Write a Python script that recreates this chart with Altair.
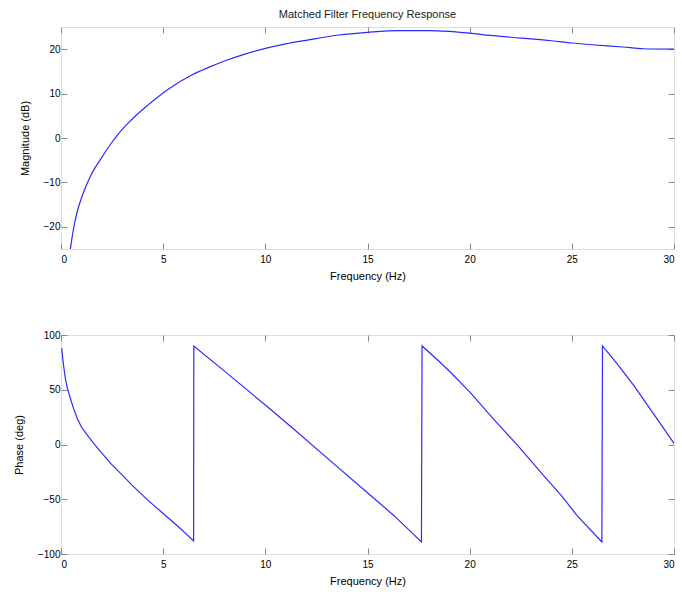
import altair as alt
import pandas as pd

# Magnitude response (dB) of the matched filter
mag_freq = [0.3, 0.46, 0.63, 0.8, 1.04, 1.45, 1.95, 2.44, 2.8, 3.27, 4.22, 5.25, 6.4, 7.23,
            8.1, 9.0, 10.1, 11.0, 12.0, 13.6, 15.0, 16.5, 18.0, 19.0, 20.0, 21.0, 22.5,
            24.0, 25.0, 26.0, 27.5, 28.5, 30.0]
mag_db = [-32.0, -25.0, -20.0, -16.5, -13.0, -8.5, -4.7, -1.3, 0.9, 3.3, 7.3, 11.0, 14.2, 15.9,
          17.5, 18.9, 20.3, 21.2, 22.0, 23.2, 23.8, 24.2, 24.2, 24.0, 23.6, 23.1, 22.5,
          21.9, 21.4, 21.0, 20.5, 20.1, 20.0]

# Phase response (deg), wrapped to [-90, 90]
ph_freq = [0.03, 0.12, 0.21, 0.33, 0.46, 0.62, 0.79, 1.0, 1.29, 1.6, 1.95, 2.44, 3.0, 3.5,
           4.26, 5.0, 5.8, 6.49,
           6.5, 8.0, 10.0, 11.4, 13.0, 15.0, 16.3, 17.64,
           17.67, 18.5, 19.06, 20.0, 21.18, 22.4, 23.6, 24.5, 25.26, 26.47,
           26.5, 27.2, 28.03, 29.0, 30.0]
ph_deg = [88, 73, 60.5, 50, 42, 32.5, 24, 16, 8.5, 1, -6.7, -17.4, -28, -37.5,
          -51, -63, -76, -88,
          90, 67, 36, 14, -12, -44, -65, -89,
          90, 76, 66, 48, 23, -2, -28, -47, -65, -89,
          90, 74, 54, 28, 1]

x_ticks = [0, 5, 10, 15, 20, 25, 30]
mag_ticks = [-20, -10, 0, 10, 20]
ph_ticks = [-100, -50, 0, 50, 100]

LINE_COLOR = "#2b2bff"
INK = "#222222"
FONT = "Liberation Sans"
W, H_TOP, H_BOT = 613, 222, 219
TICK = 6

mag_df = pd.DataFrame({"f": mag_freq, "v": mag_db, "i": range(len(mag_freq))})
ph_df = pd.DataFrame({"f": ph_freq, "v": ph_deg, "i": range(len(ph_freq))})


def panel(df, ytitle, ydomain, yticks, height, interp, title=""):
    xscale = alt.Scale(domain=[0, 30], nice=False, zero=False)
    yscale = alt.Scale(domain=ydomain, nice=False, zero=False)
    base = alt.Chart(df)
    # visible trace with labelled bottom/left axes (ticks drawn inward)
    trace = base.mark_line(color=LINE_COLOR, strokeWidth=1.2, clip=True,
                           interpolate=interp).encode(
        x=alt.X("f:Q", scale=xscale,
                axis=alt.Axis(orient="bottom", offset=-TICK, domain=False, tickSize=TICK,
                              values=x_ticks, title="Frequency (Hz)", labelPadding=5,
                              titlePadding=6, grid=False, titleFontWeight="normal")),
        y=alt.Y("v:Q", scale=yscale,
                axis=alt.Axis(orient="left", offset=-TICK, domain=False, tickSize=TICK,
                              values=yticks, title=ytitle, labelPadding=1,
                              titlePadding=13, grid=False, titleFontWeight="normal")),
        order="i:Q",
    )
    # invisible copy that carries the inward ticks on the top/right edges
    box = base.mark_line(opacity=0).encode(
        x=alt.X("f:Q", scale=xscale,
                axis=alt.Axis(orient="top", offset=-TICK, domain=False, tickSize=TICK,
                              values=x_ticks, labels=False, title="", grid=False)),
        y=alt.Y("v:Q", scale=yscale,
                axis=alt.Axis(orient="right", offset=-TICK, domain=False, tickSize=TICK,
                              values=yticks, labels=False, title="", grid=False)),
        order="i:Q",
    )
    props = dict(width=W, height=height)
    if title:
        props["title"] = alt.TitleParams(title, fontSize=11, font=FONT, fontWeight="normal",
                                         color=INK, offset=7)
    return alt.layer(trace, box).resolve_axis(x="independent", y="independent").properties(**props)


top = panel(mag_df, "Magnitude (dB)", [-25, 25], mag_ticks, H_TOP, "monotone",
            title="Matched Filter Frequency Response")
bottom = panel(ph_df, "Phase (deg)", [-100, 100], ph_ticks, H_BOT, "linear")

chart = alt.vconcat(top, bottom, spacing=47).properties(
    padding={"left": 12, "top": 8, "right": 2, "bottom": 4}
).configure_view(
    stroke=INK, strokeWidth=1
).configure_axis(
    labelFont=FONT, titleFont=FONT, labelFontSize=12, titleFontSize=11.5,
    labelColor=INK, titleColor=INK, titleFontWeight="normal",
    tickColor=INK, tickWidth=1
).configure(background="white")

chart.save("out.html", embed_options={"renderer": "svg", "actions": False})
